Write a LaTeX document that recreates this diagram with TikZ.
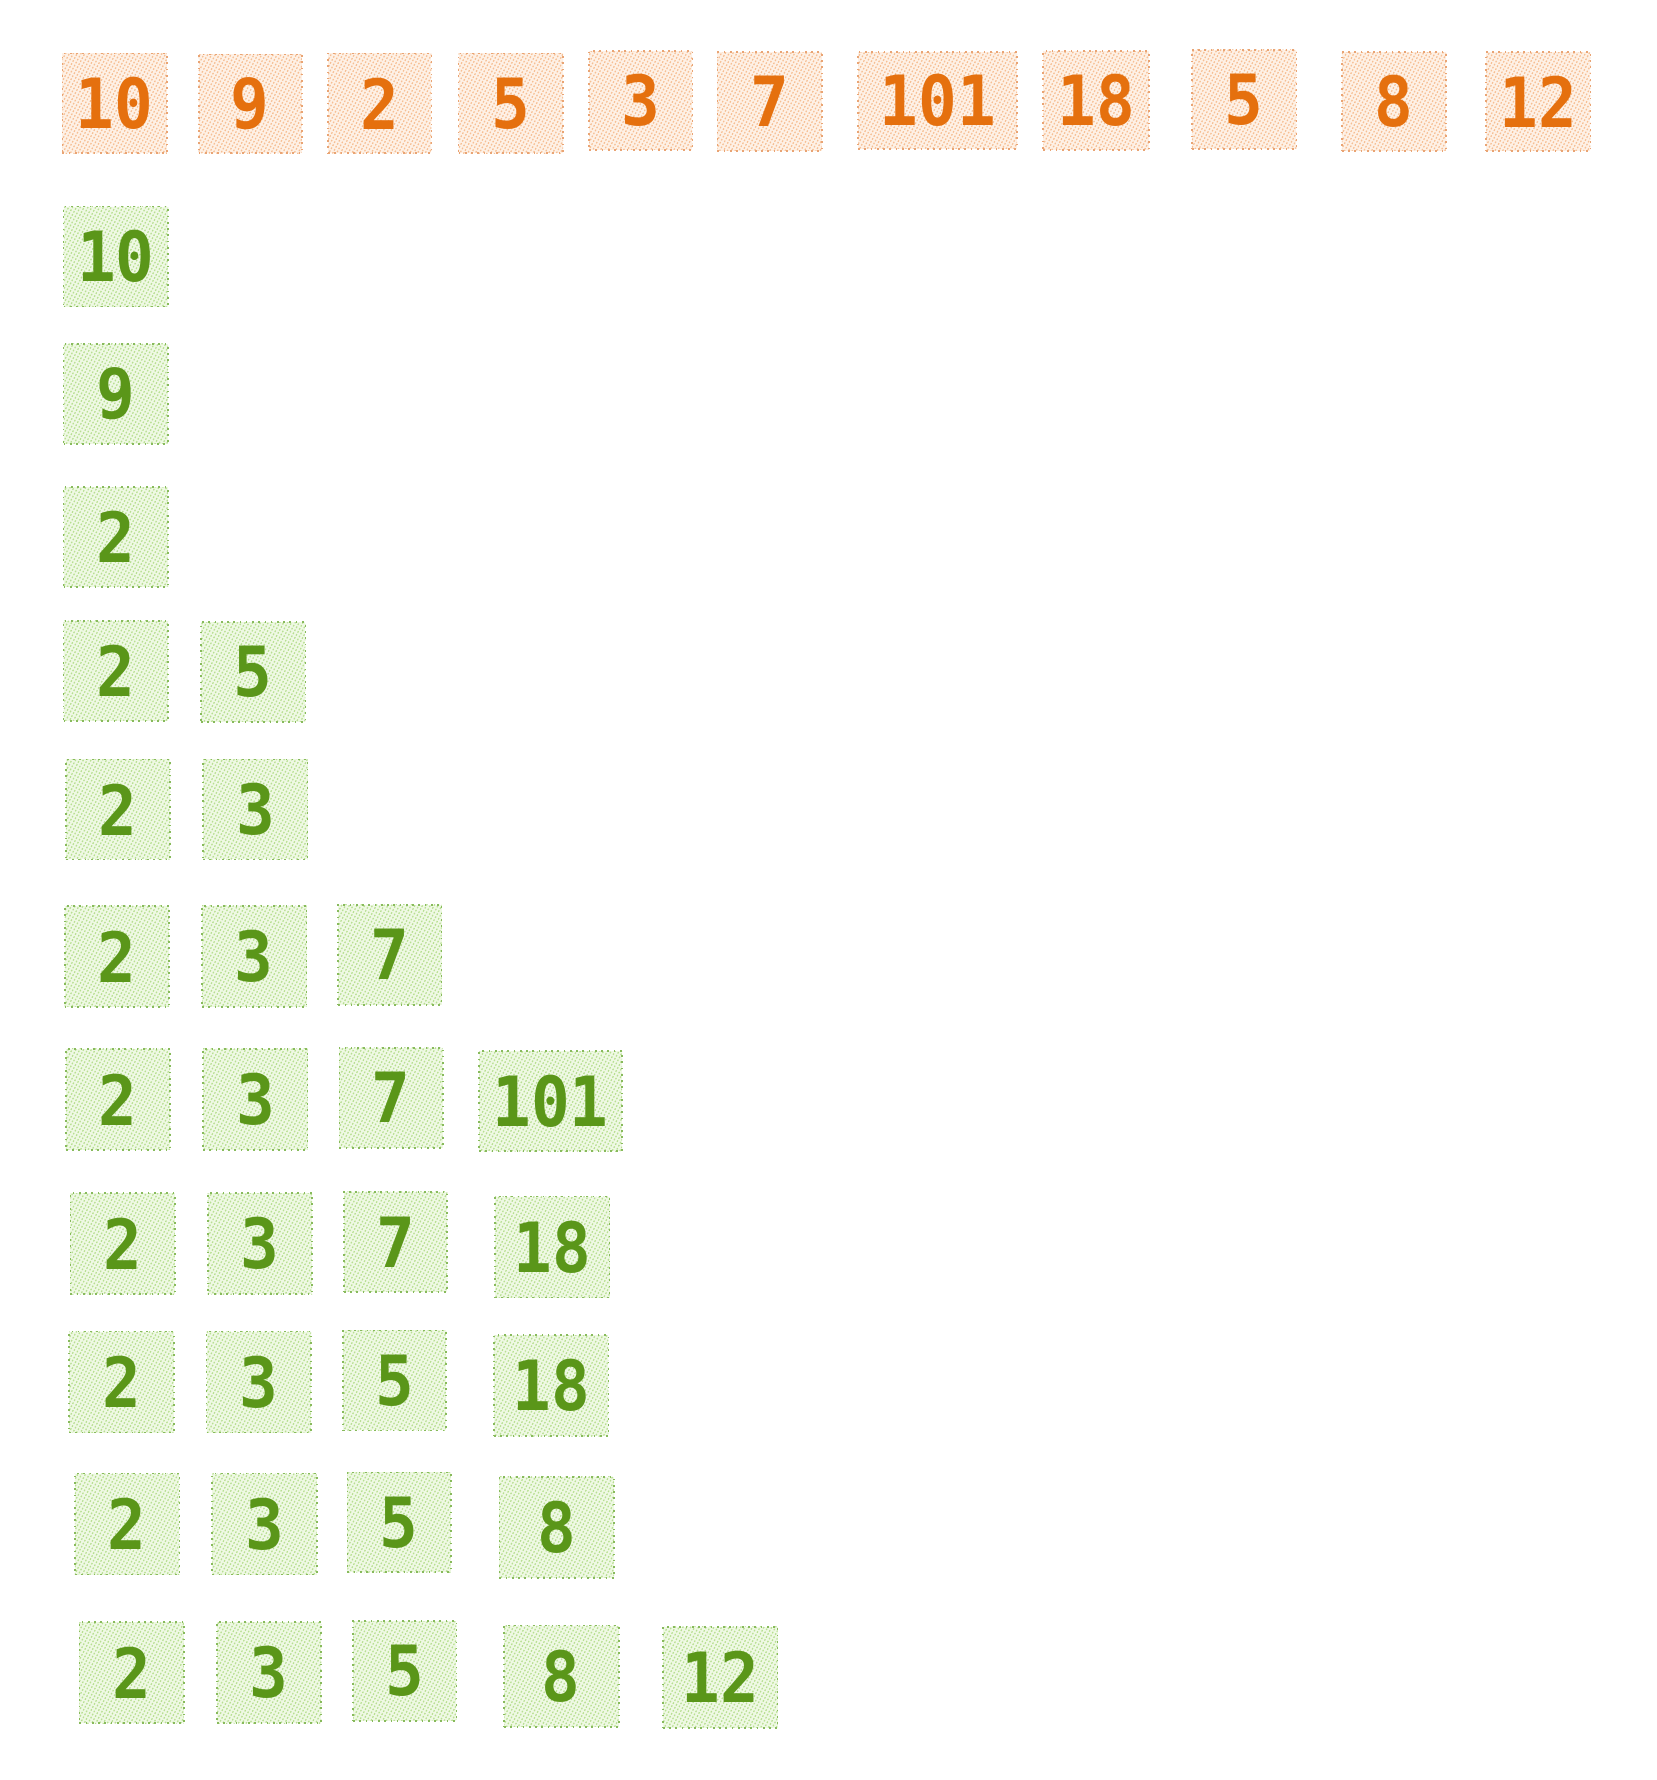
\documentclass[tikz,border=0pt]{standalone}
\usepackage{fontspec}
\setmonofont[FakeStretch=0.93]{DejaVu Sans Mono}
\usetikzlibrary{patterns.meta}
\definecolor{otext}{HTML}{E5700E}
\definecolor{ofill}{HTML}{FEF1E6}
\definecolor{oline}{HTML}{F6BF94}
\definecolor{odraw}{HTML}{E9A474}
\definecolor{gtext}{HTML}{5A9619}
\definecolor{gfill}{HTML}{EFF9E4}
\definecolor{gline}{HTML}{B8DF92}
\definecolor{gdraw}{HTML}{88BA5C}
\tikzset{
  cell/.style={inner sep=0pt, line width=0.75pt, dotted,
    font=\fontsize{30.5}{36}\selectfont\ttfamily\bfseries},
  obox/.style={cell, draw=odraw, text=otext,
    preaction={fill=ofill},
    pattern={Lines[angle=62,distance=1.5pt,line width=0.55pt]}, pattern color=oline},
  gbox/.style={cell, draw=gdraw, text=gtext,
    preaction={fill=gfill},
    pattern={Lines[angle=62,distance=1.5pt,line width=0.55pt]}, pattern color=gline},
}
\newcommand{\bx}[7]{%
  \pgfmathsetmacro\bw{(#5-#3)*0.5}\pgfmathsetmacro\bh{(#6-#4)*0.5}%
  \node[#2, minimum width=\bw pt, minimum height=\bh pt] (#1) at ({(#3+#5)/2},{(#4+#6)/2}) {#7};}
\begin{document}
\begin{tikzpicture}[x=0.5pt,y=-0.5pt]
\useasboundingbox[fill=white] (0,0) rectangle (1459,1568);
% top row
\bx{o1}{obox}{55}{47}{147}{135}{10}
\bx{o2}{obox}{175}{48}{266}{135}{9}
\bx{o3}{obox}{289}{47}{380}{135}{2}
\bx{o4}{obox}{404}{47}{496}{135}{5}
\bx{o5}{obox}{519}{45}{610}{132}{3}
\bx{o6}{obox}{632}{46}{724}{133}{7}
\bx{o7}{obox}{756}{46}{896}{131}{101}
\bx{o8}{obox}{919}{45}{1012}{132}{18}
\bx{o9}{obox}{1050}{44}{1142}{131}{5}
\bx{o10}{obox}{1182}{46}{1274}{133}{8}
\bx{o11}{obox}{1309}{46}{1401}{133}{12}
% row 1
\bx{a1}{gbox}{56}{182}{148}{270}{10}
% row 2
\bx{b1}{gbox}{56}{303}{148}{391}{9}
% row 3
\bx{c1}{gbox}{56}{429}{148}{517}{2}
% row 4
\bx{d1}{gbox}{56}{547}{148}{635}{2}
\bx{d2}{gbox}{177}{548}{269}{636}{5}
% row 5
\bx{e1}{gbox}{58}{669}{150}{757}{2}
\bx{e2}{gbox}{179}{669}{271}{757}{3}
% row 6
\bx{f1}{gbox}{57}{798}{149}{887}{2}
\bx{f2}{gbox}{178}{798}{270}{887}{3}
\bx{f3}{gbox}{298}{797}{389}{885}{7}
% row 7
\bx{g1}{gbox}{58}{924}{150}{1013}{2}
\bx{g2}{gbox}{179}{924}{271}{1013}{3}
\bx{g3}{gbox}{299}{923}{390}{1011}{7}
\bx{g4}{gbox}{422}{926}{548}{1014}{101}
% row 8
\bx{h1}{gbox}{62}{1051}{154}{1140}{2}
\bx{h2}{gbox}{183}{1051}{275}{1140}{3}
\bx{h3}{gbox}{303}{1050}{394}{1138}{7}
\bx{h4}{gbox}{436}{1054}{537}{1143}{18}
% row 9
\bx{i1}{gbox}{61}{1173}{153}{1262}{2}
\bx{i2}{gbox}{182}{1173}{274}{1262}{3}
\bx{i3}{gbox}{302}{1172}{393}{1260}{5}
\bx{i4}{gbox}{435}{1176}{536}{1265}{18}
% row 10
\bx{j1}{gbox}{66}{1298}{158}{1387}{2}
\bx{j2}{gbox}{187}{1298}{279}{1387}{3}
\bx{j3}{gbox}{306}{1297}{397}{1385}{5}
\bx{j4}{gbox}{440}{1301}{541}{1390}{8}
% row 11
\bx{k1}{gbox}{70}{1429}{162}{1518}{2}
\bx{k2}{gbox}{191}{1429}{283}{1518}{3}
\bx{k3}{gbox}{311}{1428}{402}{1516}{5}
\bx{k4}{gbox}{444}{1432}{545}{1521}{8}
\bx{k5}{gbox}{584}{1433}{685}{1522}{12}
\end{tikzpicture}
\end{document}
